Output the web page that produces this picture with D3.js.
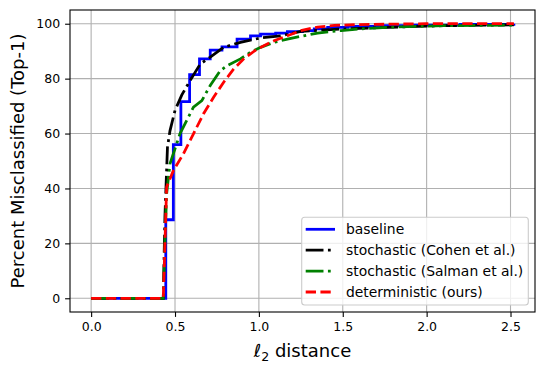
<!DOCTYPE html>
<meta charset="utf-8">
<script src="https://d3js.org/d3.v7.min.js"></script>
<style>
  body { margin: 0; background: #fff; }
  text { font-family: "DejaVu Sans", sans-serif; }
</style>
<div id="chart"></div>
<script>
var width = 544, height = 372
var margin = {left: 70, right: 9, top: 10, bottom: 60}

// data
var baselineX = [0, 0.445, 0.49, 0.535, 0.587, 0.646, 0.71, 0.78, 0.87, 0.95, 1.01, 1.1, 1.17, 1.26, 1.33, 1.41, 1.53, 1.7, 1.9, 2.2, 2.52]
var baselineY = [0, 28.6, 56, 71.6, 81.5, 87.2, 90.4, 91.6, 94.4, 95.6, 96.2, 96.6, 97.1, 97.5, 98.1, 98.7, 99, 99.3, 99.5, 99.8, 100]
var cohenX = [0, 0.43, 0.44, 0.455, 0.47, 0.50, 0.54, 0.59, 0.65, 0.71, 0.79, 0.89, 1.01, 1.13, 1.25, 1.4, 1.6, 1.84, 2.1, 2.52]
var cohenY = [0, 0, 30, 55, 61, 68.4, 74, 79.3, 85.3, 87.8, 91.4, 93.2, 94.8, 95.6, 97.2, 97.8, 98.3, 98.8, 99.3, 99.6]
var salmanX = [0, 0.43, 0.44, 0.45, 0.47, 0.53, 0.61, 0.66, 0.71, 0.77, 0.81, 0.89, 0.95, 1.01, 1.09, 1.17, 1.25, 1.35, 1.49, 1.6, 1.8, 2.1, 2.52]
var salmanY = [0, 0, 20, 38, 49, 60, 69.6, 72, 77.5, 82.9, 84.7, 87.2, 89.6, 91.4, 93.2, 94.4, 95.4, 96.6, 97.5, 98.1, 98.8, 99.3, 99.5]
var oursX = [0, 0.43, 0.44, 0.45, 0.49, 0.55, 0.61, 0.67, 0.73, 0.79, 0.85, 0.91, 0.99, 1.09, 1.17, 1.25, 1.35, 1.45, 1.6, 2.0, 2.52]
var oursY = [0, 0, 20, 40.5, 46.5, 52.6, 59.9, 67.2, 73.2, 78.7, 83.5, 87.2, 90.8, 93.8, 95.6, 97.5, 98.8, 99.4, 99.7, 100, 100]

var xTicks = [0, 0.5, 1.0, 1.5, 2.0, 2.5]
var yTicks = [0, 20, 40, 60, 80, 100]
var labels = ["baseline", "stochastic (Cohen et al.)", "stochastic (Salman et al.)", "deterministic (ours)"]

var lw = 2.78
var series = [
  {name: labels[0], xs: baselineX, ys: baselineY, color: "#0000ff", dash: null, curve: d3.curveStepAfter},
  {name: labels[1], xs: cohenX, ys: cohenY, color: "#000000", dash: [6.4*lw, 1.6*lw, 1*lw, 1.6*lw], curve: d3.curveLinear},
  {name: labels[2], xs: salmanX, ys: salmanY, color: "#008000", dash: [6.4*lw, 1.6*lw, 1*lw, 1.6*lw], curve: d3.curveLinear},
  {name: labels[3], xs: oursX, ys: oursY, color: "#ff0000", dash: [3.7*lw, 1.6*lw], curve: d3.curveLinear}
]

var svg = d3.select("#chart").append("svg")
  .attr("width", width).attr("height", height)

var x = d3.scaleLinear().domain([-0.126, 2.646]).range([margin.left, width - margin.right])
var y = d3.scaleLinear().domain([-5, 105]).range([height - margin.bottom, margin.top])

// grid
svg.append("g").selectAll("line").data(xTicks).enter().append("line")
  .attr("x1", d => x(d)).attr("x2", d => x(d))
  .attr("y1", margin.top).attr("y2", height - margin.bottom)
  .style("stroke", "#b0b0b0").style("stroke-width", 1.1)
svg.append("g").selectAll("line").data(yTicks).enter().append("line")
  .attr("x1", margin.left).attr("x2", width - margin.right)
  .attr("y1", d => y(d)).attr("y2", d => y(d))
  .style("stroke", "#b0b0b0").style("stroke-width", 1.1)

// axes
var xAxis = svg.append("g")
  .attr("transform", "translate(0," + (height - margin.bottom) + ")")
  .call(d3.axisBottom(x).tickValues(xTicks).tickFormat(d3.format(".1f")).tickSizeInner(4.9).tickSizeOuter(0).tickPadding(4.9))
var yAxis = svg.append("g")
  .attr("transform", "translate(" + margin.left + ",0)")
  .call(d3.axisLeft(y).tickValues(yTicks).tickFormat(d3.format("d")).tickSizeInner(4.9).tickSizeOuter(0).tickPadding(4.9))
svg.selectAll(".tick text").style("font-size", "12.5px").style("fill", "#000")
  .style("font-family", "DejaVu Sans")
svg.selectAll(".tick line").style("stroke", "#000").style("stroke-width", 1.1)
svg.selectAll(".domain").remove()

// frame
svg.append("rect")
  .attr("x", margin.left).attr("y", margin.top)
  .attr("width", width - margin.left - margin.right)
  .attr("height", height - margin.top - margin.bottom)
  .style("fill", "none").style("stroke", "#000").style("stroke-width", 1.1)

// lines
var plot = svg.append("g")
series.forEach(function(s) {
  var pts = s.xs.map(function(v, i) { return [v, s.ys[i]] })
  var line = d3.line().x(d => x(d[0])).y(d => y(d[1])).curve(s.curve)
  plot.append("path")
    .attr("d", line(pts))
    .style("fill", "none")
    .style("stroke", s.color)
    .style("stroke-width", lw)
    .style("stroke-dasharray", s.dash ? s.dash.join(",") : null)
})

// axis labels
var xl = svg.append("text")
  .attr("x", (margin.left + width - margin.right) / 2)
  .attr("y", 357)
  .attr("text-anchor", "middle")
  .style("font-size", "18px")
xl.append("tspan").text("ℓ").style("font-style", "italic")
xl.append("tspan").text("2").attr("dy", 4).style("font-size", "12.6px")
xl.append("tspan").text(" distance").attr("dy", -4)

svg.append("text")
  .attr("transform", "translate(23.5," + ((margin.top + height - margin.bottom) / 2) + ") rotate(-90)")
  .attr("text-anchor", "middle")
  .style("font-size", "18px")
  .text("Percent Misclassified (Top-1)")

// legend
var lg = svg.append("g")
lg.append("rect")
  .attr("x", 301.7).attr("y", 217.3).attr("width", 226.6).attr("height", 87.7)
  .attr("rx", 3)
  .style("fill", "#fff").style("fill-opacity", 0.8)
  .style("stroke", "#cccccc").style("stroke-width", 1.1)
series.forEach(function(s, i) {
  var yy = 229.3 + i * 20.9
  lg.append("line")
    .attr("x1", 305.7).attr("x2", 335).attr("y1", yy).attr("y2", yy)
    .style("stroke", s.color).style("stroke-width", lw)
    .style("stroke-dasharray", s.dash ? s.dash.join(",") : null)
  lg.append("text")
    .attr("x", 346).attr("y", yy + 4.9)
    .style("font-size", "13.9px")
    .text(s.name)
})
</script>
